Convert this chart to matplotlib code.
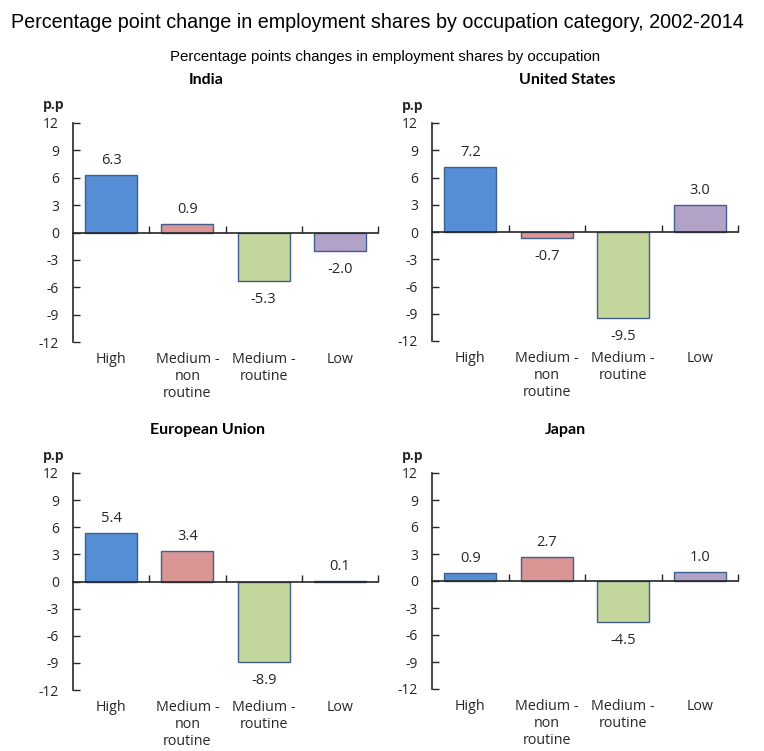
import numpy as np
import matplotlib.pyplot as plt
from matplotlib import font_manager

# data
categories = ["High", "Medium -\nnon\nroutine", "Medium -\nroutine", "Low"]
regions = ["India", "United States", "European Union", "Japan"]
india = [6.3, 0.9, -5.3, -2.0]
united_states = [7.2, -0.7, -9.5, 3.0]
european_union = [5.4, 3.4, -8.9, 0.1]
japan = [0.9, 2.7, -4.5, 1.0]
yticks = [12, 9, 6, 3, 0, -3, -6, -9, -12]

bar_colors = ["#558ED5", "#D99694", "#C3D69B", "#B3A2C7"]
edge_color = "#3F5F8F"
ink = "#262626"

installed = {f.name for f in font_manager.fontManager.ttflist}
label_font = ["Open Sans", "DejaVu Sans"] if "Open Sans" in installed else ["DejaVu Sans"]
head_font = ["Lato", "DejaVu Sans"] if "Lato" in installed else ["DejaVu Sans"]
title_font = ["Liberation Sans", "DejaVu Sans"]

W, H = 764, 751
fig = plt.figure(figsize=(W / 100, H / 100), dpi=100)


def fx(px):
    return px / W


def fy(px):
    return 1 - px / H


# panel boxes in pixels: left, top, right, bottom, title centre x, title y
panels = [
    (india, 73, 123, 378, 342, 206, 80),
    (united_states, 432, 123, 738, 341, 567, 80),
    (european_union, 73, 473, 378, 690, 207, 430),
    (japan, 432, 473, 738, 689, 565, 430),
]

fig.text(fx(11), fy(22), "Percentage point change in employment shares by occupation category, 2002-2014",
         fontsize=14.2, family=title_font, ha="left", va="center", color="black")
fig.text(fx(385), fy(57), "Percentage points changes in employment shares by occupation",
         fontsize=10.8, family=title_font, ha="center", va="center", color="black")

x = np.arange(len(categories))
for name, (vals, l, t, r, b, tx, ty) in zip(regions, panels):
    ax = fig.add_axes([fx(l), fy(b), fx(r) - fx(l), fy(t) - fy(b)])
    ax.bar(x, vals, width=0.68, color=bar_colors, edgecolor=edge_color, linewidth=1.0, zorder=2)
    ax.set_xlim(-0.5, 3.5)
    ax.set_ylim(-12, 12)
    ax.set_yticks(yticks)
    ax.set_yticklabels([str(v) for v in yticks], family=label_font, fontsize=10, color=ink)
    ax.tick_params(axis="y", direction="in", length=5, width=1, pad=10, color=ink)

    for side in ("top", "right"):
        ax.spines[side].set_visible(False)
    ax.spines["left"].set_color(ink)
    ax.spines["left"].set_linewidth(1.2)
    ax.spines["bottom"].set_position(("data", 0))
    ax.spines["bottom"].set_color(ink)
    ax.spines["bottom"].set_linewidth(1.2)
    ax.spines["bottom"].set_zorder(3)
    ax.set_xticks(x + 0.5)
    ax.set_xticklabels([])
    ax.tick_params(axis="x", direction="in", length=5, width=1, color=ink)

    for xi, v in zip(x, vals):
        if v >= 0:
            ax.annotate(f"{v:.1f}", (xi, v), xytext=(0, 5), textcoords="offset points",
                        ha="center", va="bottom", fontsize=10.5, family=label_font, color=ink)
        else:
            ax.annotate(f"{v:.1f}", (xi, v), xytext=(0, -8), textcoords="offset points",
                        ha="center", va="top", fontsize=10.5, family=label_font, color=ink)

    for xi, cat in zip(x, categories):
        ax.text(xi, -0.045, cat, transform=ax.get_xaxis_transform(), ha="center", va="top",
                fontsize=10.3, family=label_font, color=ink, linespacing=1.18)

    ax.text(-0.098, 1.08, "p.p", transform=ax.transAxes, ha="left", va="center",
            fontsize=10, fontweight="bold", family=label_font, color=ink)
    fig.text(fx(tx), fy(ty), name, ha="center", va="center", fontsize=11.5,
             fontweight="bold", family=head_font, color="black")

fig.savefig("out.png", dpi=100)
